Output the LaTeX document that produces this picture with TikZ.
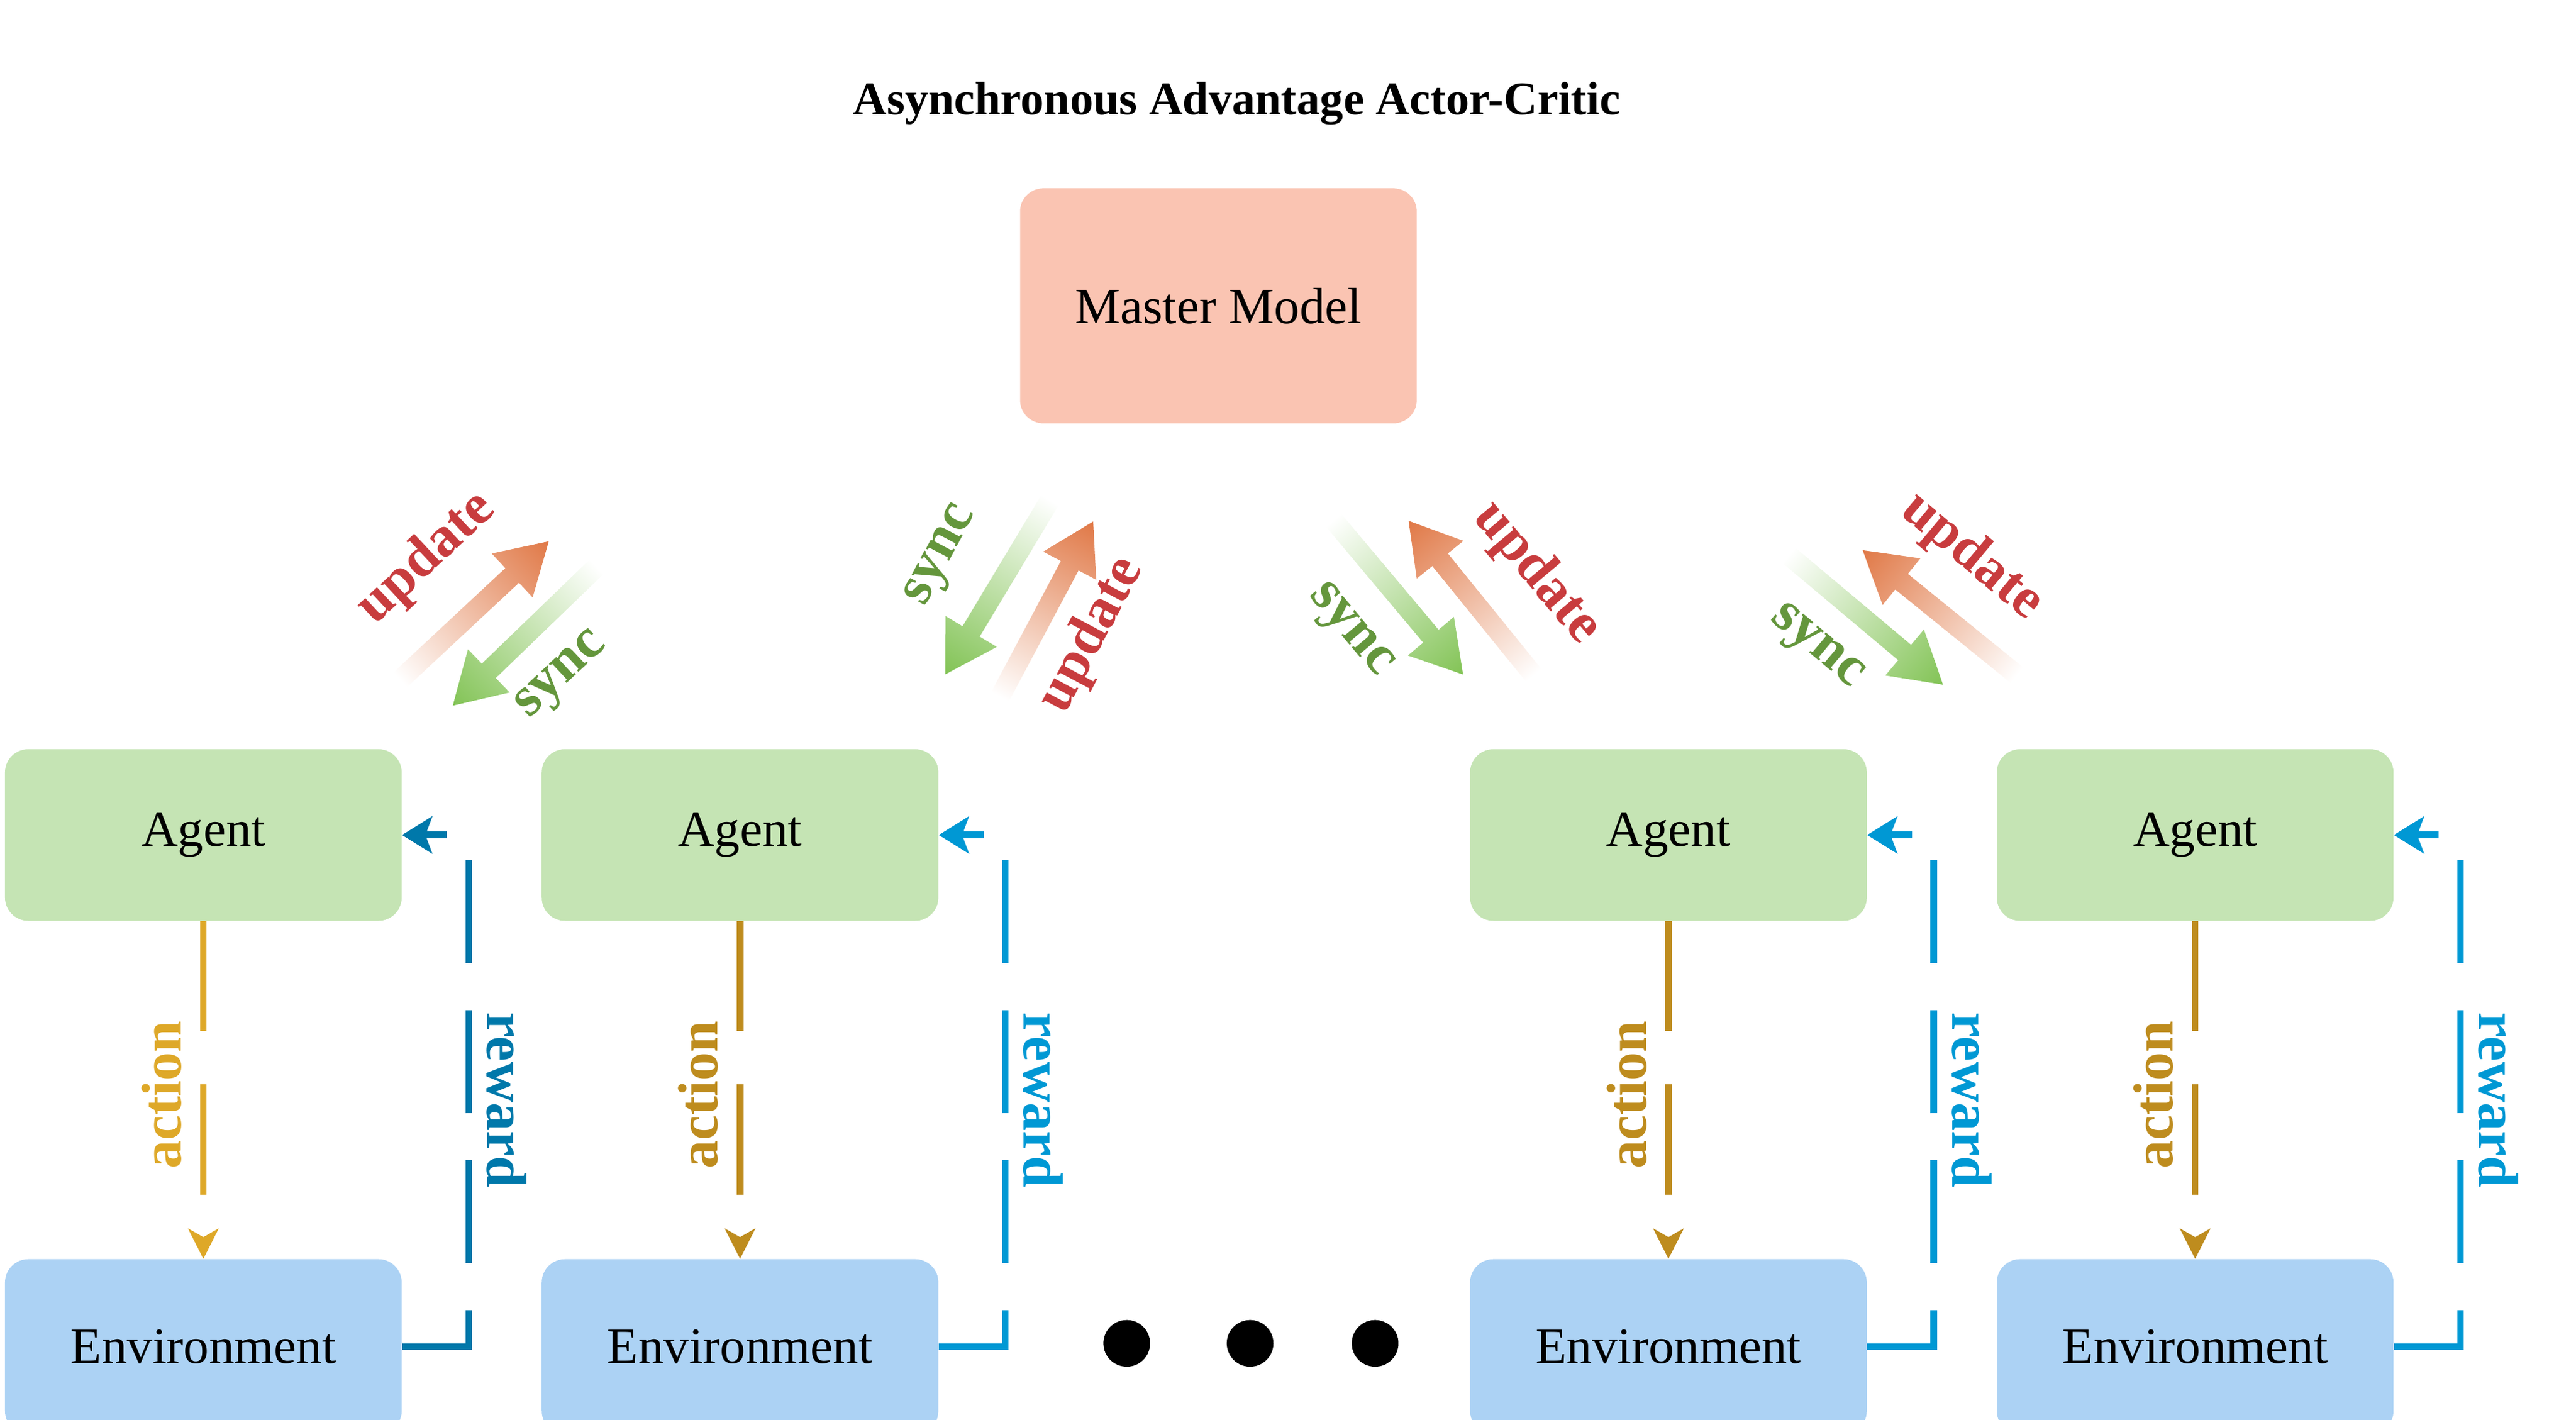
\documentclass[tikz,border=0pt]{standalone}
\usepackage{fontspec}
\setmainfont{Liberation Serif}
\usetikzlibrary{arrows.meta}

\definecolor{masterfill}{RGB}{250,196,178}
\definecolor{agentfill}{RGB}{197,228,180}
\definecolor{envfill}{RGB}{172,210,244}
\definecolor{updred}{RGB}{200,60,62}
\definecolor{updorange}{RGB}{224,120,70}
\definecolor{syncgreen}{RGB}{100,150,60}
\definecolor{syncarrow}{RGB}{130,195,85}
\definecolor{actgoldA}{RGB}{222,168,40}
\definecolor{actgold}{RGB}{190,140,30}
\definecolor{rewblueA}{RGB}{0,120,170}
\definecolor{rewblue}{RGB}{0,152,212}

\tikzset{
  box/.style={rounded corners=14, minimum width=238, minimum height=103, inner sep=0, font=\fontsize{30.5}{32}\selectfont},
  lbl/.style={font=\bfseries\fontsize{34}{36}\selectfont, inner sep=0},
}

% fat shaded arrow: tail, canvas angle, length, colour
\newcommand{\fatarrow}[4]{%
  \begin{scope}[transform canvas={shift={#1}, rotate=#2}]
    \shade[left color=white, right color=#4, draw=none]
      (0,-6) -- (#3-30,-6) -- (#3-30,-18) -- (#3,0) -- (#3-30,18) -- (#3-30,6) -- (0,6) -- cycle;
  \end{scope}}

\begin{document}
\begin{tikzpicture}[x=1pt,y=-1pt]
\useasboundingbox (0,0) rectangle (1545.5,852);

% title
\node[font=\bfseries\fontsize{28}{30}\selectfont] (title) at (742,62) {Asynchronous Advantage Actor-Critic};

% master
\node[box, fill=masterfill, minimum height=141] (master) at (731,183.5) {Master Model};

% workers
\foreach \i/\x/\ac/\rc in {1/122/actgoldA/rewblueA, 2/444/actgold/rewblue, 3/1001/actgold/rewblue, 4/1317/actgold/rewblue}{
  \node[box, fill=agentfill] (a\i) at (\x,501) {Agent};
  \node[box, fill=envfill, minimum height=105] (e\i) at (\x,808) {Environment};
  \draw[\ac, line width=4, dash pattern=on 66 off 32, -{Stealth[length=18,width=18,inset=5]}] (a\i.south) -- (e\i.north);
  \node[lbl, \ac, rotate=90] (act\i) at (\x-25,657) {action};
  \draw[\rc, line width=4, dash pattern=on 62 off 28, -{Stealth[length=18,width=22,inset=4]}] (e\i.east) -- ++(40,0) |- (a\i.east);
  \node[lbl, \rc, rotate=-90] (rew\i) at (\x+182,660) {reward};
}

% dots
\foreach \d/\x in {1/676,2/750,3/825}
  \fill (\x,806) circle (14) coordinate (dot\d);

% update / sync arrows
\fatarrow{(240pt,-408pt)}{43}{122}{updorange}
\fatarrow{(358pt,-340pt)}{224}{120}{syncarrow}
\fatarrow{(630pt,-300pt)}{239}{122}{syncarrow}
\fatarrow{(600pt,-418pt)}{62}{119}{updorange}
\fatarrow{(800pt,-312pt)}{-50}{121}{syncarrow}
\fatarrow{(920pt,-405pt)}{129}{119}{updorange}
\fatarrow{(1073pt,-333pt)}{-40}{121}{syncarrow}
\fatarrow{(1210pt,-405pt)}{141}{119}{updorange}

\node[lbl, updred, rotate=43] (u1) at (256,335) {update};
\node[lbl, syncgreen, rotate=43] (s1) at (338,406) {sync};
\node[lbl, syncgreen, rotate=62] (s2) at (566,334) {sync};
\node[lbl, updred, rotate=62] (u2) at (655,381) {update};
\node[lbl, updred, rotate=-50] (u3) at (922,344) {update};
\node[lbl, syncgreen, rotate=-50] (s3) at (809,379) {sync};
\node[lbl, updred, rotate=-40] (u4) at (1183,334) {update};
\node[lbl, syncgreen, rotate=-40] (s4) at (1089,389) {sync};
\end{tikzpicture}
\end{document}
